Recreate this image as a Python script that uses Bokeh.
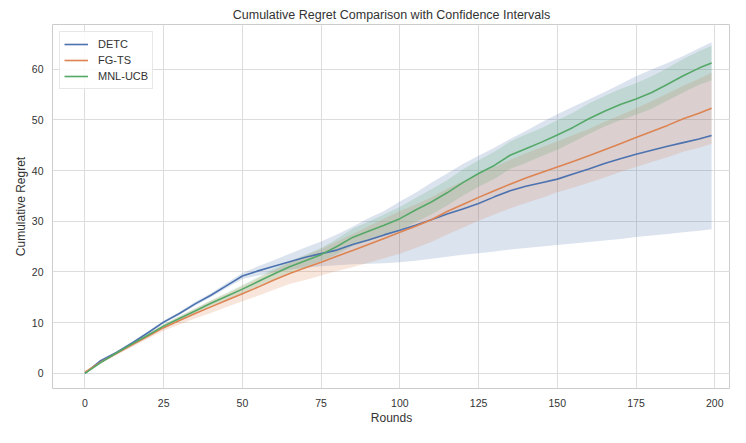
from bokeh.plotting import figure
from bokeh.models import FixedTicker, Range1d, Legend, LegendItem
from bokeh.embed import file_html
from bokeh.resources import INLINE

rounds = [0, 5, 10, 15, 20, 25, 30, 35, 40, 45, 50, 55, 60, 65, 70, 75, 80, 85, 90, 95,
          100, 105, 110, 115, 120, 125, 130, 135, 140, 145, 150, 155, 160, 165, 170, 175,
          180, 185, 190, 195, 199]

detc_mean = [0.0, 2.5, 4.1, 6.0, 8.0, 10.1, 11.8, 13.7, 15.4, 17.3, 19.2, 20.2, 21.1, 22.0,
             22.9, 23.6, 24.3, 25.4, 26.3, 27.3, 28.2, 29.2, 30.3, 31.4, 32.4, 33.5, 34.8,
             36.0, 36.9, 37.6, 38.3, 39.3, 40.3, 41.4, 42.3, 43.2, 44.0, 44.8, 45.5, 46.2, 46.9]
detc_lower = [0.0, 2.3, 3.9, 5.8, 7.8, 9.8, 11.5, 13.3, 15.0, 16.8, 18.6, 19.3, 19.9, 20.4,
              20.8, 21.1, 21.3, 21.5, 21.6, 21.7, 21.9, 22.2, 22.6, 23.0, 23.4, 23.7, 24.0,
              24.4, 24.7, 25.0, 25.3, 25.6, 25.9, 26.2, 26.5, 26.9, 27.2, 27.5, 27.8, 28.1, 28.4]
detc_upper = [0.0, 2.7, 4.3, 6.2, 8.2, 10.4, 12.1, 14.1, 15.8, 17.8, 19.8, 21.1, 22.3, 23.6,
              24.8, 26.0, 27.4, 28.9, 30.6, 32.0, 33.9, 35.6, 37.6, 39.4, 41.3, 42.9, 44.5,
              46.2, 47.8, 49.5, 51.1, 52.6, 54.0, 55.5, 57.0, 58.6, 59.9, 61.2, 62.6, 64.1, 65.3]

fgts_mean = [0.2, 2.2, 3.9, 5.6, 7.3, 9.0, 10.4, 11.8, 13.1, 14.4, 15.7, 17.0, 18.4, 19.7,
             20.8, 21.9, 23.1, 24.2, 25.4, 26.6, 27.8, 29.0, 30.3, 31.9, 33.3, 34.7, 36.0,
             37.3, 38.5, 39.6, 40.7, 41.8, 42.9, 44.1, 45.3, 46.5, 47.7, 48.9, 50.2, 51.3, 52.3]
fgts_lower = [0.1, 2.0, 3.6, 5.2, 6.8, 8.4, 9.6, 10.8, 11.9, 13.1, 14.2, 15.3, 16.5, 17.6,
              18.4, 19.3, 20.2, 20.9, 21.8, 22.7, 23.6, 24.7, 25.9, 27.4, 28.7, 30.1, 31.3,
              32.5, 33.6, 34.6, 35.7, 36.6, 37.6, 38.6, 39.7, 40.7, 41.7, 42.6, 43.7, 44.5, 45.3]
fgts_upper = [0.3, 2.4, 4.2, 6.0, 7.8, 9.6, 11.2, 12.8, 14.3, 15.7, 17.2, 18.7, 20.3, 21.8,
              23.2, 24.5, 26.0, 27.5, 29.0, 30.5, 32.0, 33.3, 34.7, 36.4, 37.9, 39.3, 40.7,
              42.1, 43.4, 44.6, 45.7, 47.0, 48.2, 49.6, 50.9, 52.3, 53.7, 55.2, 56.7, 58.1, 59.3]

mnl_mean = [0.0, 2.1, 4.0, 5.8, 7.5, 9.3, 10.8, 12.3, 13.8, 15.2, 16.6, 18.1, 19.6, 21.0,
            22.2, 23.4, 25.0, 26.8, 28.0, 29.2, 30.5, 32.2, 33.8, 35.6, 37.6, 39.4, 41.0,
            43.0, 44.3, 45.6, 47.0, 48.5, 50.2, 51.7, 53.0, 54.1, 55.4, 57.0, 58.7, 60.2, 61.2]
mnl_lower = [-0.1, 1.9, 3.8, 5.5, 7.2, 8.9, 10.3, 11.8, 13.2, 14.5, 15.8, 17.2, 18.6, 19.9,
             21.0, 22.1, 23.5, 25.1, 26.1, 27.1, 28.2, 29.8, 31.3, 33.1, 35.0, 36.8, 38.3,
             40.3, 41.5, 42.8, 44.1, 45.6, 47.2, 48.7, 49.9, 51.0, 52.2, 53.8, 55.4, 56.9, 57.8]
mnl_upper = [0.1, 2.3, 4.2, 6.1, 7.8, 9.7, 11.3, 12.8, 14.4, 15.9, 17.4, 19.0, 20.6, 22.1,
             23.4, 24.7, 26.5, 28.5, 29.9, 31.3, 32.8, 34.6, 36.3, 38.1, 40.2, 42.0, 43.7,
             45.7, 47.1, 48.4, 49.9, 51.4, 53.2, 54.7, 56.1, 57.2, 58.6, 60.2, 62.0, 63.5, 64.6]

names = ["DETC", "FG-TS", "MNL-UCB"]
colors = ["#4C72B0", "#DD8452", "#55A868"]
x_ticks = [0, 25, 50, 75, 100, 125, 150, 175, 200]
y_ticks = [0, 10, 20, 30, 40, 50, 60]

FONT = "Liberation Sans"
TXT = "#333333"

p = figure(width=730, height=427, output_backend="svg", toolbar_location=None,
           x_range=Range1d(-10.3, 205.0), y_range=Range1d(-3.0, 68.8),
           min_border_left=52, min_border_right=0, min_border_top=24, min_border_bottom=0,
           title="Cumulative Regret Comparison with Confidence Intervals")

p.title.text_font = FONT
p.title.text_font_size = "12.5px"
p.title.text_font_style = "normal"
p.title.text_color = TXT
p.title.align = "center"
p.title.standoff = 5

p.background_fill_color = "white"
p.border_fill_color = "white"
p.outline_line_color = "#cccccc"
p.outline_line_width = 1

for ax in (p.xaxis, p.yaxis):
    ax.axis_line_color = None
    ax.major_tick_line_color = None
    ax.minor_tick_line_color = None
    ax.major_tick_out = 0
    ax.major_tick_in = 0
    ax.minor_tick_out = 0
    ax.minor_tick_in = 0
    ax.major_label_text_font = FONT
    ax.major_label_text_font_size = "10.5px"
    ax.major_label_text_color = TXT
    ax.axis_label_text_font = FONT
    ax.axis_label_text_font_size = "12px"
    ax.axis_label_text_font_style = "normal"
    ax.axis_label_text_color = TXT

p.xaxis.ticker = FixedTicker(ticks=x_ticks)
p.yaxis.ticker = FixedTicker(ticks=y_ticks)
p.xaxis.axis_label = "Rounds"
p.yaxis.axis_label = "Cumulative Regret"
p.xaxis.major_label_standoff = 10
p.xaxis.axis_label_standoff = 1
p.yaxis.major_label_standoff = 9
p.yaxis.axis_label_standoff = 1

p.grid.grid_line_color = "#dcdcdc"
p.grid.grid_line_width = 1

bands = [(detc_lower, detc_upper), (fgts_lower, fgts_upper), (mnl_lower, mnl_upper)]
means = [detc_mean, fgts_mean, mnl_mean]

for (lo, hi), c in zip(bands, colors):
    p.varea(x=rounds, y1=lo, y2=hi, fill_color=c, fill_alpha=0.2)

items = []
for m, c, n in zip(means, colors, names):
    r = p.line(rounds, m, line_color=c, line_width=1.6)
    items.append(LegendItem(label=n, renderers=[r]))

legend = Legend(items=items, location="top_left")
legend.label_text_font = FONT
legend.label_text_font_size = "11px"
legend.label_text_color = TXT
legend.border_line_color = "#d0d0d0"
legend.border_line_width = 1
legend.background_fill_alpha = 0.85
legend.glyph_width = 24
legend.glyph_height = 16
legend.label_height = 16
legend.spacing = 0
legend.padding = 4
legend.margin = 7
legend.label_standoff = 10
p.add_layout(legend)

open("out.html", "w").write(file_html(p, INLINE))
